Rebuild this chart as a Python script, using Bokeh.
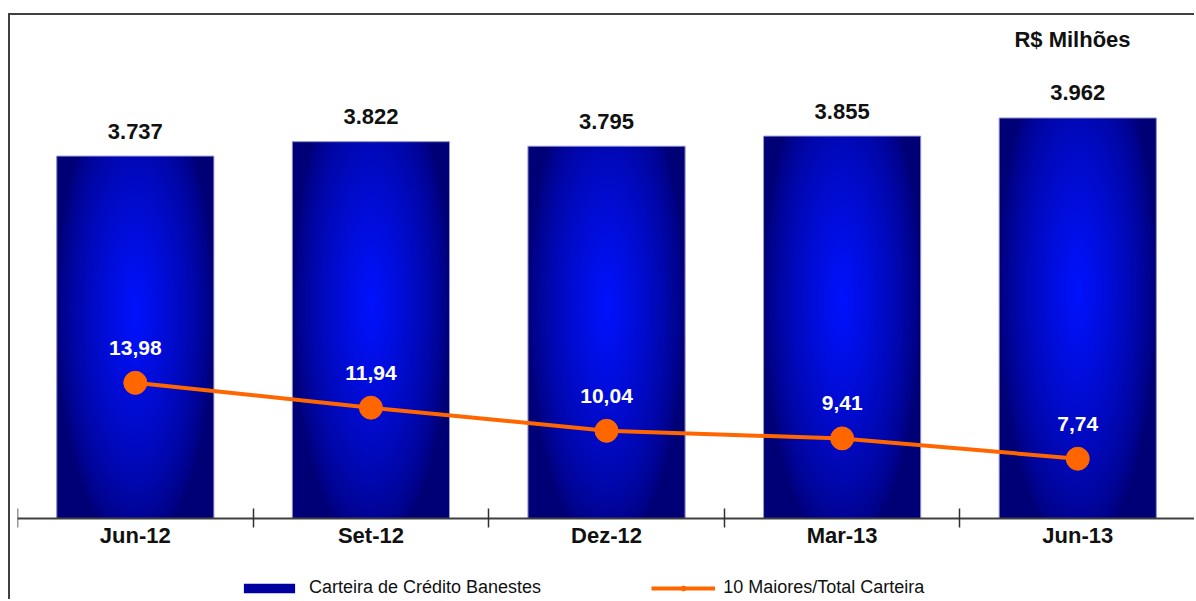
import numpy as np
from bokeh.plotting import figure
from bokeh.models import Range1d, FixedTicker, Legend, LegendItem, Label
from bokeh.core.properties import value
from bokeh.embed import file_html
from bokeh.resources import INLINE

# ---------------- data ----------------
categories = ["Jun-12", "Set-12", "Dez-12", "Mar-13", "Jun-13"]
carteira = [3737, 3822, 3795, 3855, 3962]          # R$ Milhões
maiores = [13.98, 11.94, 10.04, 9.41, 7.74]          # 10 Maiores / Total Carteira
series_names = ["Carteira de Crédito Banestes", "10 Maiores/Total Carteira"]
unit_label = "R$ Milhões"

# ---------------- style ----------------
FONT = "Liberation Sans"
BAR_W = 0.667
ORANGE = "#FF6600"
BASE = 1597                 # value at the category axis line
Y0, Y1 = 1107, 4567
P0, P1 = -4.0, 44.19

xc = [i + 0.5 for i in range(len(categories))]
bar_labels = [f"{v:,}".replace(",", ".") for v in carteira]
line_labels = [f"{v:.2f}".replace(".", ",") for v in maiores]

p = figure(width=1186, height=586,
           x_range=Range1d(0, 5.004), y_range=Range1d(Y0, Y1),
           y_axis_location=None,
           output_backend="svg", toolbar_location=None,
           min_border_left=7, min_border_right=0, min_border_top=0,
           min_border_bottom=0)
p.extra_y_ranges = {"pct": Range1d(P0, P1)}
p.outline_line_color = None
p.grid.visible = False
p.background_fill_color = "white"
p.border_fill_color = "white"
p.styles = {"border-left": "2px solid #404040",
            "border-top": "2px solid #404040",
            "margin-top": "13px",
            "margin-left": "8px"}

# gradient texture for the bars (radial: bright blue centre, navy edges)
ny, nx = 240, 160
u = (np.arange(nx) + 0.5) / nx
v = (np.arange(ny) + 0.5) / ny
U, V = np.meshgrid(u, v)
r = np.sqrt(((U - 0.5) / 0.5) ** 2 + ((V - 0.57) / 0.65) ** 2)
f = np.clip(1 - r, 0, 1) ** 0.7
dark = np.array([0, 0, 118])
bright = np.array([0, 18, 255])
rgb = dark[None, None, :] + (bright - dark)[None, None, :] * f[:, :, None]
img = np.empty((ny, nx), dtype=np.uint32)
view = img.view(dtype=np.uint8).reshape((ny, nx, 4))
view[:, :, 0] = rgb[:, :, 0].astype(np.uint8)
view[:, :, 1] = rgb[:, :, 1].astype(np.uint8)
view[:, :, 2] = rgb[:, :, 2].astype(np.uint8)
view[:, :, 3] = 255

bars = p.vbar(x=xc, top=carteira, bottom=BASE, width=BAR_W,
              fill_color="#0000A0", line_color=None)
p.image_rgba(image=[img] * len(carteira),
             x=[c - BAR_W / 2 for c in xc], y=[BASE] * len(carteira),
             dw=[BAR_W] * len(carteira), dh=[t - BASE for t in carteira])
p.vbar(x=xc, top=carteira, bottom=BASE, width=BAR_W,
       fill_alpha=0, line_color="#9a9ad0", line_width=1)

p.text(x=xc, y=carteira, text=bar_labels, text_align="center",
       text_baseline="alphabetic", y_offset=-25,
       text_font=value(FONT), text_font_size="22px", text_font_style="bold",
       text_color="#111111")

ln = p.line(x=xc, y=maiores, y_range_name="pct", line_color=ORANGE, line_width=4)
mk = p.scatter(x=xc, y=maiores, y_range_name="pct", marker="circle", size=23,
               fill_color=ORANGE, line_color=ORANGE)
p.text(x=xc, y=maiores, y_range_name="pct", text=line_labels, text_align="center",
       text_baseline="alphabetic", y_offset=-35,
       text_font=value(FONT), text_font_size="21px", text_font_style="bold",
       text_color="white")

p.add_layout(Label(x=1055, y=562, x_units="screen", y_units="screen",
                   text=unit_label, text_align="center", text_baseline="alphabetic",
                   text_font=FONT, text_font_size="22px", text_font_style="bold",
                   text_color="#111111"))

ax = p.xaxis[0]
ax.fixed_location = BASE
ax.ticker = FixedTicker(ticks=xc, minor_ticks=list(range(len(categories) + 1)))
ax.major_label_overrides = {x: c for x, c in zip(xc, categories)}
ax.major_tick_line_color = None
ax.major_tick_in = 0
ax.major_tick_out = 0
ax.minor_tick_in = 10
ax.minor_tick_out = 9
ax.minor_tick_line_color = "#303030"
ax.minor_tick_line_width = 1.5
ax.axis_line_color = "#404040"
ax.axis_line_width = 2
ax.major_label_standoff = -5
ax.major_label_text_font = FONT
ax.major_label_text_font_size = "22px"
ax.major_label_text_font_style = "bold"
ax.major_label_text_color = "#111111"

legend = Legend(items=[LegendItem(label=series_names[0], renderers=[bars]),
                       LegendItem(label=series_names[1], renderers=[ln, mk])],
                location=(220, 3), orientation="horizontal",
                glyph_width=64, glyph_height=12, label_standoff=8, spacing=110,
                padding=0, margin=0,
                label_text_font=FONT, label_text_font_size="18px",
                label_text_color="#111111",
                border_line_color=None, background_fill_alpha=0)
p.add_layout(legend)

open("out.html", "w").write(file_html(p, INLINE))
